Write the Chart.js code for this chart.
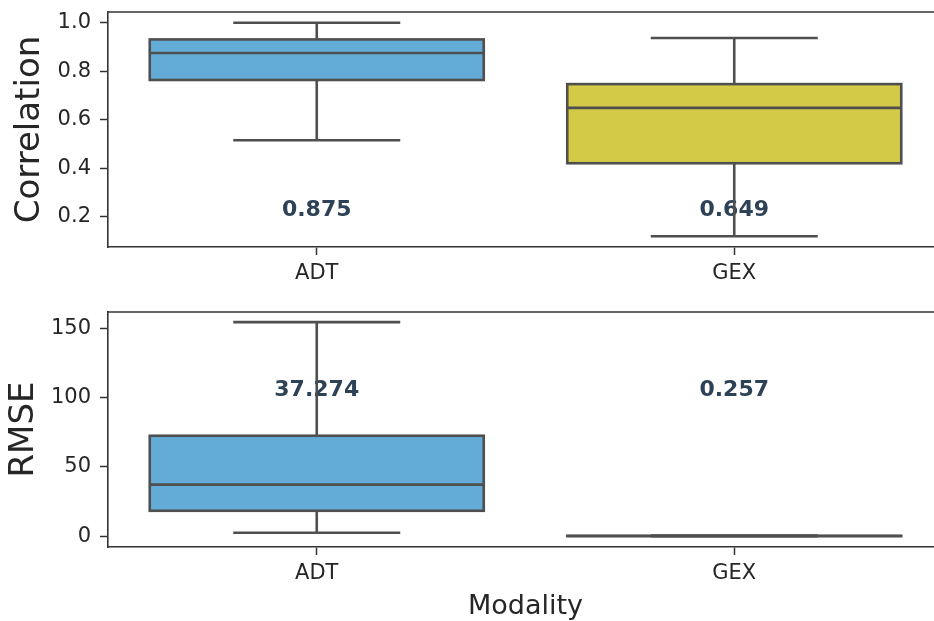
<!DOCTYPE html>
<html>
<head>
<meta charset="utf-8">
<script src="https://cdn.jsdelivr.net/npm/chart.js@4/dist/chart.umd.min.js"></script>
<style>
  html, body { margin: 0; padding: 0; background: #ffffff; overflow: hidden; }
  #wrap { position: relative; width: 934px; height: 621px; overflow: hidden; }
  canvas { position: absolute; left: 0; }
  #corr { top: 0; }
  #rmse { top: 300px; }
</style>
</head>
<body>
<div id="wrap">
  <canvas id="corr" width="960" height="300"></canvas>
  <canvas id="rmse" width="960" height="321"></canvas>
</div>
<script>
// Modalities compared
const categories = ['ADT', 'GEX'];
const boxColors = ['#62acd7', '#d3cb48'];

// Correlation distribution per modality (box-plot summary)
const corrMin    = [0.516, 0.120];
const corrQ1     = [0.764, 0.421];
const corrMedian = [0.875, 0.649];
const corrQ3     = [0.931, 0.747];
const corrMax    = [1.000, 0.937];
const corrTicks  = [0.2, 0.4, 0.6, 0.8, 1.0];
const corrRange  = [0.076, 1.044];
const corrLabelY = 0.228;

// RMSE distribution per modality (box-plot summary)
const rmseMin    = [2.6, 0.10];
const rmseQ1     = [18.4, 0.18];
const rmseMedian = [37.274, 0.257];
const rmseQ3     = [72.5, 0.34];
const rmseMax    = [154.4, 0.55];
const rmseTicks  = [0, 50, 100, 150];
const rmseRange  = [-7.7, 161.7];
const rmseLabelY = 105;

const EDGE = '#4f4f4f';
const AXIS = '#333333';
const FONT = '"DejaVu Sans", Verdana, sans-serif';

// Whiskers, caps, box outlines, medians and median labels
const boxPlot = {
  id: 'boxPlot',
  beforeDatasetsDraw(chart, args, opts) {
    const { ctx, scales: { x, y } } = chart;
    const meta = chart.getDatasetMeta(0);
    ctx.save();
    ctx.font = 'bold 22px ' + FONT;
    ctx.fillStyle = '#2e4257';
    ctx.textAlign = 'center';
    ctx.textBaseline = 'middle';
    opts.median.forEach((m, i) => {
      ctx.fillText(m.toFixed(3), x.getPixelForValue(i), y.getPixelForValue(opts.labelY));
    });
    ctx.strokeStyle = EDGE;
    ctx.lineWidth = 2.6;
    ctx.lineCap = 'butt';
    meta.data.forEach((bar, i) => {
      const cx = bar.x;
      const half = bar.width / 4;
      const yLo = y.getPixelForValue(opts.min[i]);
      const yHi = y.getPixelForValue(opts.max[i]);
      const yQ1 = y.getPixelForValue(opts.q1[i]);
      const yQ3 = y.getPixelForValue(opts.q3[i]);
      ctx.beginPath();
      ctx.moveTo(cx, yQ1); ctx.lineTo(cx, yLo);
      ctx.moveTo(cx, yQ3); ctx.lineTo(cx, yHi);
      ctx.moveTo(cx - half, yLo); ctx.lineTo(cx + half, yLo);
      ctx.moveTo(cx - half, yHi); ctx.lineTo(cx + half, yHi);
      ctx.stroke();
    });
    ctx.restore();
  },
  afterDatasetsDraw(chart, args, opts) {
    const { ctx, scales: { y } } = chart;
    const meta = chart.getDatasetMeta(0);
    ctx.save();
    ctx.strokeStyle = EDGE;
    ctx.lineWidth = 2.6;
    meta.data.forEach((bar, i) => {
      const left = bar.x - bar.width / 2;
      const top = Math.min(bar.y, bar.base);
      const h = Math.abs(bar.base - bar.y);
      ctx.strokeRect(left, top, bar.width, h);
      const ym = y.getPixelForValue(opts.median[i]);
      ctx.beginPath();
      ctx.moveTo(left, ym); ctx.lineTo(left + bar.width, ym);
      ctx.stroke();
    });
    ctx.restore();
  },
  afterDraw(chart) {
    // top spine; the right one lies beyond the visible page
    const { ctx, chartArea: a } = chart;
    ctx.save();
    ctx.strokeStyle = AXIS;
    ctx.lineWidth = 1.6;
    ctx.beginPath();
    ctx.moveTo(a.left, a.top); ctx.lineTo(chart.width, a.top);
    ctx.stroke();
    ctx.restore();
  }
};

function makePanel(id, stats, range, ticks, yTitle, yTitlePad, xTitle, padTop, xHeight, tickFmt) {
  const floating = categories.map((c, i) => [stats.q1[i], stats.q3[i]]);
  return new Chart(document.getElementById(id), {
    type: 'bar',
    data: {
      labels: categories,
      datasets: [{
        data: floating,
        backgroundColor: boxColors,
        borderWidth: 0,
        categoryPercentage: 0.8,
        barPercentage: 1.0
      }]
    },
    plugins: [boxPlot],
    options: {
      responsive: false,
      animation: false,
      events: [],
      layout: { padding: { left: 0, right: 17, top: padTop, bottom: 0 } },
      plugins: {
        legend: { display: false },
        tooltip: { enabled: false },
        boxPlot: stats
      },
      scales: {
        x: {
          offset: true,
          grid: { display: true, offset: false, drawOnChartArea: false, drawTicks: true,
                  tickLength: 8, tickColor: AXIS, tickWidth: 1.5 },
          border: { display: true, color: AXIS, width: 1.6 },
          ticks: { color: '#262626', font: { family: FONT, size: 21 }, padding: 6, maxRotation: 0 },
          title: xTitle ? { display: true, text: xTitle, color: '#262626',
                            font: { family: FONT, size: 27 }, padding: { top: 0, bottom: -2 } }
                        : { display: false },
          afterFit(scale) { scale.height = xHeight; scale.paddingLeft = 0; scale.paddingRight = 0; }
        },
        y: {
          min: range[0],
          max: range[1],
          grid: { display: true, drawOnChartArea: false, drawTicks: true,
                  tickLength: 8, tickColor: AXIS, tickWidth: 1.5 },
          border: { display: true, color: AXIS, width: 1.6 },
          ticks: { color: '#262626', font: { family: FONT, size: 21 }, padding: 9,
                   callback: (v) => tickFmt(v) },
          title: { display: true, text: yTitle, color: '#262626',
                   font: { family: FONT, size: 34 }, padding: { top: yTitlePad, bottom: 0 } },
          afterBuildTicks(scale) { scale.ticks = ticks.map(v => ({ value: v })); },
          afterFit(scale) { scale.width = 108; scale.paddingTop = 0; scale.paddingBottom = 0; }
        }
      }
    }
  });
}

makePanel('corr',
  { min: corrMin, q1: corrQ1, median: corrMedian, q3: corrQ3, max: corrMax, labelY: corrLabelY },
  corrRange, corrTicks, 'Correlation', 10, null, 12, 53, v => v.toFixed(1));

makePanel('rmse',
  { min: rmseMin, q1: rmseQ1, median: rmseMedian, q3: rmseQ3, max: rmseMax, labelY: rmseLabelY },
  rmseRange, rmseTicks, 'RMSE', 4, 'Modality', 12, 74, v => String(v));
</script>
</body>
</html>
